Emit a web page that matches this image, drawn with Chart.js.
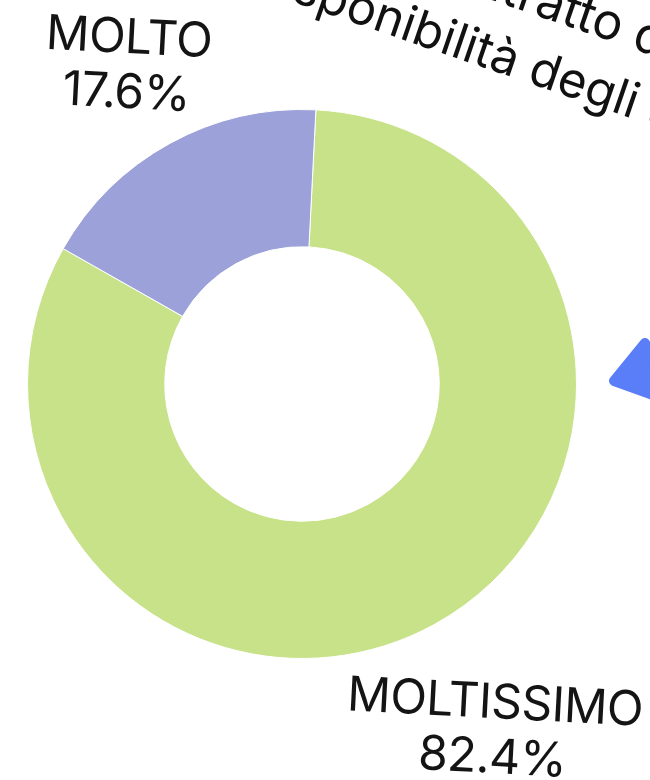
<!DOCTYPE html>
<html>
<head>
<meta charset="utf-8">
<script src="https://cdn.jsdelivr.net/npm/chart.js@4.4.1/dist/chart.umd.min.js"></script>
<style>
  html, body { margin: 0; padding: 0; background: #fff; }
  #wrap { width: 650px; height: 780px; position: relative; }
</style>
</head>
<body>
<div id="wrap"><canvas id="donutChart"></canvas></div>
<script>
const categories = ['MOLTISSIMO', 'MOLTO'];
const shares = [82.4, 17.6];
const sliceColors = ['rgb(200, 226, 138)', 'rgb(156, 161, 217)'];
const titleLines = ['il contratto di', 'disponibilità degli spazi'];

// where each category label sits (centre of the two-line block)
const labelSpots = {
  'MOLTISSIMO': { x: 493, y: 745 },
  'MOLTO': { x: 127, y: 80 }
};

const labelPlugin = {
  id: 'sliceLabels',
  afterDatasetsDraw(chart) {
    const ctx = chart.ctx;
    const data = chart.data;
    ctx.save();
    ctx.fillStyle = '#141414';
    ctx.textAlign = 'center';
    ctx.textBaseline = 'alphabetic';
    ctx.font = '48px Inter, "Noto Sans", sans-serif';
    ctx.letterSpacing = '-0.5px';
    data.labels.forEach(function(label, i){
      const spot = labelSpots[label];
      ctx.save();
      ctx.translate(spot.x, spot.y);
      ctx.rotate(3 * Math.PI / 180);
      ctx.fillText(label, 0, -27);
      ctx.fillText(data.datasets[0].data[i].toFixed(1) + '%', 0, 28);
      ctx.restore();
    });
    ctx.restore();
  }
};

// slanted title running off the top right corner, plus the blue marker
const decorPlugin = {
  id: 'decor',
  afterDraw(chart) {
    const ctx = chart.ctx;
    const tilt = 19 * Math.PI / 180;
    ctx.save();
    ctx.fillStyle = '#111';
    ctx.textAlign = 'left';
    ctx.textBaseline = 'alphabetic';

    // line 1: anchored at the "r" of "ratto"
    ctx.font = '50px Inter, "Noto Sans", sans-serif';
    ctx.save();
    ctx.translate(515, 8);
    ctx.rotate(tilt);
    ctx.fillText(titleLines[0], -ctx.measureText('il cont').width, 0);
    ctx.restore();

    // line 2: anchored at the "d" of "degli"
    ctx.font = '49px Inter, "Noto Sans", sans-serif';
    ctx.save();
    ctx.translate(526, 82);
    ctx.rotate(tilt);
    ctx.fillText(titleLines[1], -ctx.measureText('disponibilità ').width, 0);
    ctx.restore();

    ctx.fillStyle = 'rgb(90, 125, 248)';
    ctx.strokeStyle = 'rgb(90, 125, 248)';
    ctx.lineJoin = 'round';
    ctx.lineWidth = 10;
    ctx.beginPath();
    ctx.moveTo(614, 381);
    ctx.lineTo(645, 343);
    ctx.lineTo(672, 402);
    ctx.closePath();
    ctx.fill();
    ctx.stroke();
    ctx.restore();
  }
};

const data = {
  labels: categories,
  datasets: [{
    data: shares,
    backgroundColor: sliceColors,
    borderColor: '#fff',
    borderWidth: 1,
    hoverOffset: 0
  }]
};

const config = {
  type: 'doughnut',
  data,
  options: {
    responsive: true,
    maintainAspectRatio: false,
    animation: false,
    cutout: '50%',
    rotation: 2.9,
    layout: {
      padding: { left: 27, right: 73, top: 109, bottom: 121 }
    },
    plugins: {
      legend: { display: false },
      tooltip: { enabled: false }
    }
  },
  plugins: [labelPlugin, decorPlugin]
};

var donutChart = new Chart(
  document.getElementById('donutChart'),
  config
);
</script>
</body>
</html>
